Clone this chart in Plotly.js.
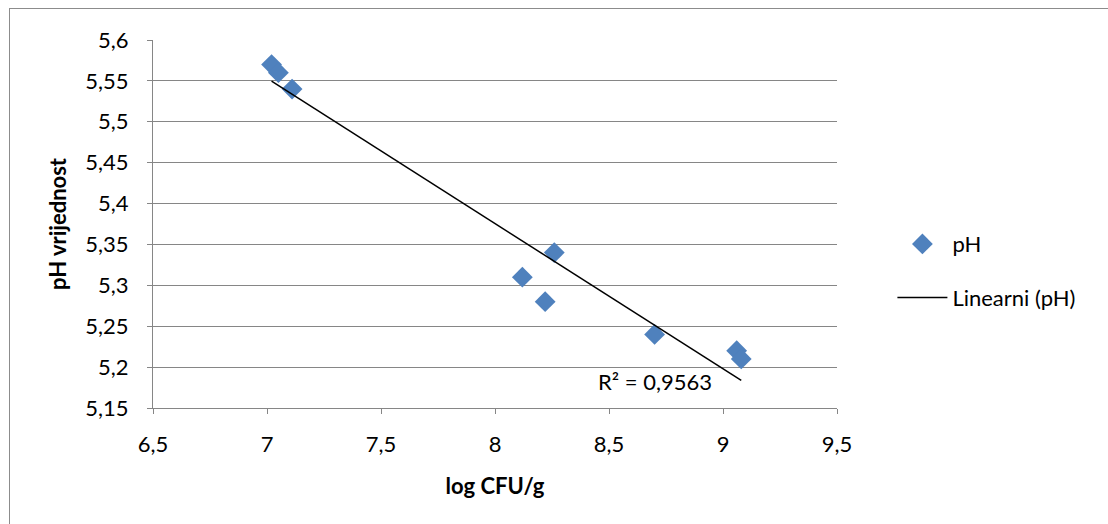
<!DOCTYPE html>
<html><head><meta charset="utf-8">
<script src="https://cdn.plot.ly/plotly-3.0.1.min.js"></script>
<style>
html,body{margin:0;padding:0;background:#fff;}
#frame{position:absolute;left:9px;top:8px;width:1110px;height:530px;border:1px solid #8c8c8c;box-sizing:border-box;}
#chart{position:absolute;left:0;top:0;width:1108px;height:524px;}
</style></head>
<body>
<div id="frame"></div>
<div id="chart"></div>
<script>
const logCFU = [7.02, 7.05, 7.11, 8.12, 8.22, 8.26, 8.70, 9.06, 9.08];
const pH = [5.57, 5.56, 5.54, 5.31, 5.28, 5.34, 5.24, 5.22, 5.21];
const xTicks = [6.5, 7, 7.5, 8, 8.5, 9, 9.5];
const xTickLabels = ['6,5', '7', '7,5', '8', '8,5', '9', '9,5'];
const yTicks = [5.15, 5.2, 5.25, 5.3, 5.35, 5.4, 5.45, 5.5, 5.55, 5.6];
const yTickLabels = ['5,15', '5,2', '5,25', '5,3', '5,35', '5,4', '5,45', '5,5', '5,55', '5,6'];
const r2Label = 'R² = 0,9563';

// least squares trendline
const n = logCFU.length;
const mx = logCFU.reduce((a,b)=>a+b,0)/n;
const my = pH.reduce((a,b)=>a+b,0)/n;
let sxy=0, sxx=0;
for (let i=0;i<n;i++){ sxy += (logCFU[i]-mx)*(pH[i]-my); sxx += (logCFU[i]-mx)**2; }
const slope = sxy/sxx, icpt = my - slope*mx;
const xmin = Math.min(...logCFU), xmax = Math.max(...logCFU);
const trendX = [xmin, xmax];
const trendY = trendX.map(x => icpt + slope*x);

const font = "Lato, 'Open Sans', sans-serif";
const FS = 22;
const data = [
  {x: logCFU, y: pH, mode: 'markers', type: 'scatter', name: 'pH', legendgroup: 'a',
   marker: {symbol: 'diamond', size: 16, color: '#4F81BD', line: {width: 0}}},
  {x: trendX, y: trendY, mode: 'lines', type: 'scatter', name: 'Linearni (pH)', legendgroup: 'b',
   line: {color: '#000000', width: 1.5}}
];
const layout = {
  width: 1108, height: 524,
  margin: {l: 153, r: 271, t: 40, b: 116},
  paper_bgcolor: 'rgba(0,0,0,0)', plot_bgcolor: '#fff',
  font: {family: font, size: FS, color: '#000'},
  showlegend: true,
  legend: {x: 1.081, y: 0.372, xanchor: 'left', yanchor: 'middle', traceorder: 'grouped', tracegroupgap: 22,
    font: {family: font, size: FS, color: '#000'}, itemwidth: 50, bgcolor: 'rgba(0,0,0,0)'},
  xaxis: {range: [6.5, 9.5], tickvals: xTicks, ticktext: xTickLabels, showgrid: false, zeroline: false,
    showline: true, linecolor: '#868686', linewidth: 1, ticks: 'outside', ticklen: 5, tickcolor: '#868686',
    ticklabelstandoff: 12,
    tickfont: {family: font, size: FS}, title: {text: '<b>log CFU/g</b>', font: {family: font, size: FS}, standoff: 22}},
  yaxis: {range: [5.15, 5.6], tickvals: yTicks, ticktext: yTickLabels, showgrid: true, gridcolor: '#868686', gridwidth: 1, zeroline: false,
    showline: true, linecolor: '#868686', linewidth: 1, ticks: 'outside', ticklen: 5, tickcolor: '#868686',
    ticklabelstandoff: 14,
    tickfont: {family: font, size: FS}, title: {text: '<b>pH vrijednost</b>', font: {family: font, size: FS}, standoff: 12}},
  annotations: [{x: 8.70, y: 5.1818, xref: 'x', yref: 'y', text: r2Label, showarrow: false, font: {family: font, size: FS, color: '#000'}, xanchor: 'center', yanchor: 'middle'}]
};
Plotly.newPlot('chart', data, layout, {displayModeBar: false, staticPlot: true});
</script>
</body></html>
